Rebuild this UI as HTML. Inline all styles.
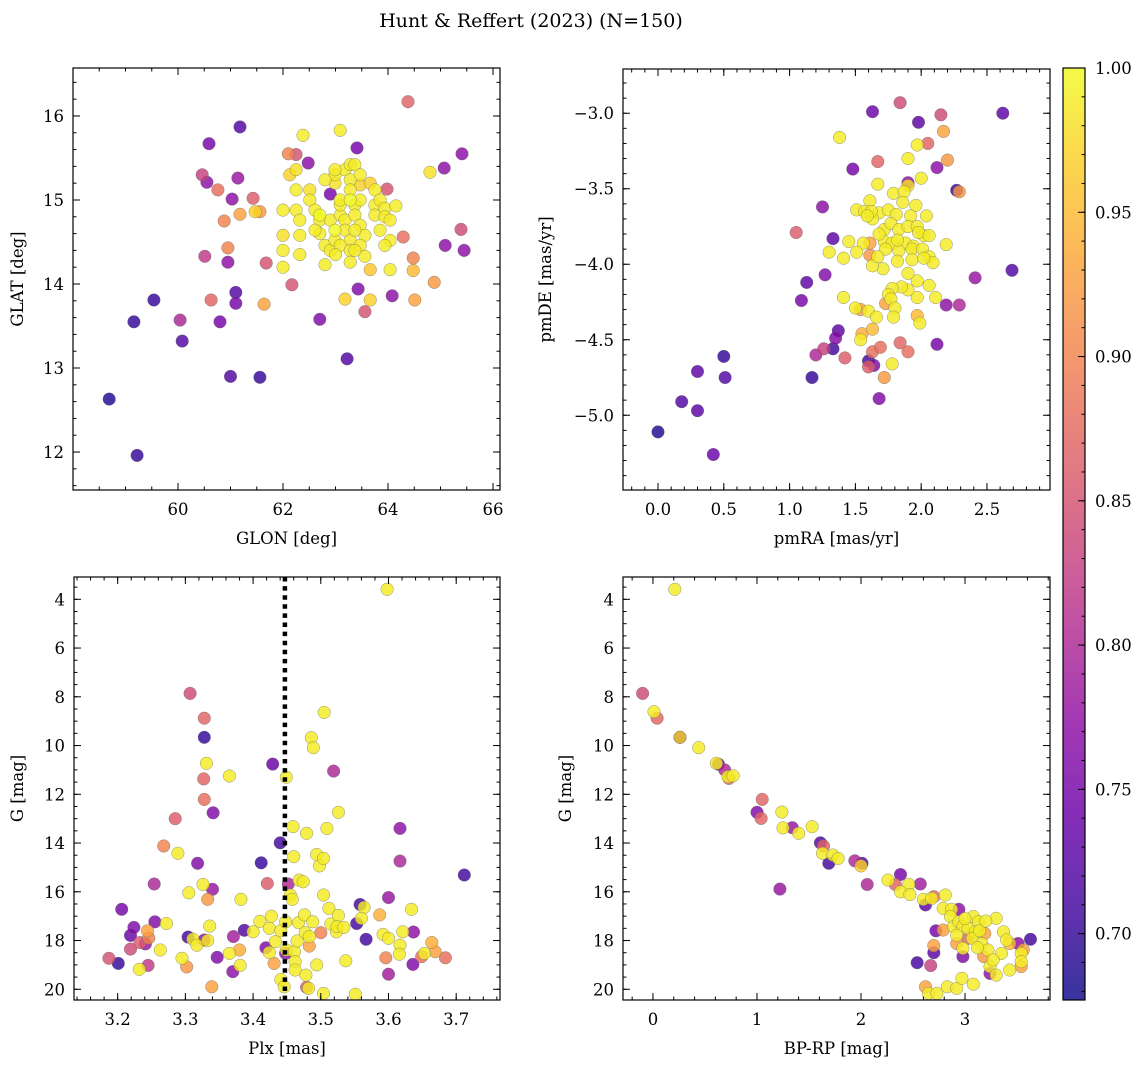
<!DOCTYPE html>
<html><head><meta charset="utf-8"><title>Hunt & Reffert (2023)</title>
<style>
html,body{margin:0;padding:0;background:#fff;}
svg{display:block;font-family:"DejaVu Serif","Liberation Serif",serif;}
</style></head>
<body>
<svg id="fig" width="1148" height="1067" viewBox="0 0 1148 1067" xmlns="http://www.w3.org/2000/svg">
<text x="531" y="27" font-size="19" text-anchor="middle" fill="#000">Hunt &amp; Reffert (2023) (N=150)</text>
</svg>
<script>
// ===== Data (value, value, membership probability) =====
const glonGlatProb = [
[58.69,12.63,.69],[59.22,11.96,.70],[59.16,13.55,.70],[59.54,13.81,.70],[60.04,13.57,.80],[60.08,13.32,.72],
[60.59,15.67,.75],[60.46,15.30,.83],[60.55,15.21,.77],[60.76,15.12,.88],[60.51,14.33,.82],[60.63,13.81,.87],
[60.80,13.55,.75],[61.00,12.90,.72],[60.95,14.26,.77],[60.95,14.43,.90],[60.88,14.75,.90],[61.03,15.01,.77],
[61.14,15.26,.78],[61.18,15.87,.72],[61.10,13.90,.72],[61.10,13.77,.75],[61.18,14.83,.93],[61.43,15.02,.86],
[61.47,14.86,.97],[61.56,14.86,.92],[61.56,12.89,.70],[61.64,13.76,.93],[61.68,14.25,.85],[62.10,15.55,.90],
[62.25,15.54,.85],[62.17,13.99,.85],[62.48,15.44,.77],[62.70,13.58,.76],[62.90,15.07,.75],[63.41,15.62,.75],
[63.22,13.11,.72],[63.43,13.94,.76],[63.56,13.67,.85],[63.98,15.13,.85],[64.08,13.86,.77],[64.38,16.17,.87],
[64.29,14.56,.88],[64.48,14.31,.90],[64.48,14.16,.95],[64.51,13.81,.93],[64.88,14.02,.92],[64.80,15.33,.98],
[65.07,15.38,.77],[65.09,14.46,.77],[65.41,15.55,.77],[65.39,14.65,.84],[65.45,14.40,.77],
[62.38,15.77,.99],[63.09,15.83,.99],[62.13,15.30,.97],[62.25,15.36,.98],[62.25,15.12,.99],[62.00,14.88,.99],
[62.25,14.88,.99],[62.32,14.58,.99],[62.00,14.58,.98],[62.00,14.40,.99],[62.00,14.20,.99],[62.32,14.35,.99],
[62.51,15.12,.98],[62.51,15.00,.99],[62.61,14.88,.99],[62.70,14.82,1],[62.70,14.60,.99],[62.70,14.76,.99],
[62.90,14.76,.99],[62.80,14.46,.99],[62.80,14.23,.99],[62.90,14.40,.99],[62.99,14.52,.99],[62.99,14.64,1],
[63.09,14.82,.99],[63.09,14.94,.99],[63.09,15.00,.99],[62.99,15.30,.99],[62.99,15.20,.98],[63.18,15.36,.99],
[63.28,15.42,.99],[63.28,15.24,.99],[63.28,15.12,.99],[63.28,15.00,1],[63.18,14.76,.99],[63.18,14.64,.99],
[63.28,14.52,.99],[63.09,14.46,.99],[63.28,14.40,.99],[63.00,14.35,.99],[63.18,13.82,.97],[63.37,15.42,.99],
[63.47,15.30,.99],[63.47,15.18,.97],[63.37,14.94,.99],[63.37,14.82,.99],[63.47,14.70,.99],[63.56,14.58,.99],
[63.47,14.46,.99],[63.56,14.33,.99],[63.66,14.17,.96],[63.75,14.94,.99],[63.75,14.82,.99],[63.66,15.20,.97],
[63.75,15.12,.99],[63.85,15.00,.99],[63.94,14.90,.99],[63.94,14.80,.99],[63.85,14.64,.99],[64.04,14.52,.99],
[64.04,14.76,.99],[64.15,14.93,.99],[63.94,14.46,.99],[64.04,14.17,.99],[63.66,13.81,.97],[63.47,15.00,.99],
[63.37,14.40,.99],[63.28,14.26,.99],[62.61,14.64,.99],[62.32,14.76,.99],[62.80,15.24,.99],[62.99,15.36,.99],
[63.37,14.64,.99]
];
const pmraPmdeProb = [
[0.00,-5.11,.69],[0.18,-4.91,.72],[0.30,-4.71,.73],[0.30,-4.97,.73],[0.42,-5.26,.74],[0.50,-4.61,.70],[0.51,-4.75,.72],
[1.05,-3.79,.86],[1.09,-4.24,.75],[1.13,-4.12,.73],[1.17,-4.75,.70],[1.20,-4.60,.80],[1.25,-3.62,.77],[1.26,-4.56,.83],
[1.27,-4.07,.76],[1.33,-3.83,.73],[1.33,-4.56,.71],[1.35,-4.49,.76],[1.37,-4.44,.73],[1.42,-4.62,.86],[1.48,-3.37,.75],
[1.63,-2.99,.74],[1.67,-3.32,.87],[1.60,-4.64,.71],[1.60,-4.68,.86],[1.64,-4.67,.76],[1.63,-4.58,.88],[1.69,-4.55,.88],
[1.72,-4.75,.92],[1.68,-4.89,.76],[1.84,-4.52,.87],[1.90,-4.58,.88],[1.84,-2.93,.84],[1.98,-3.06,.73],[2.05,-3.20,.87],
[2.15,-3.01,.84],[2.17,-3.12,.93],[2.12,-3.36,.77],[2.20,-3.31,.92],[2.27,-3.51,.70],[2.29,-3.52,.92],[2.62,-3.00,.73],
[2.69,-4.04,.72],[2.41,-4.09,.78],[2.19,-4.27,.77],[2.29,-4.27,.80],[2.12,-4.53,.75],[1.90,-3.46,.77],[1.61,-3.86,.93],
[1.61,-3.94,.92],[1.73,-4.26,.93],[1.55,-4.46,.94],[1.63,-4.43,.95],[1.97,-4.34,.95],[1.54,-4.30,.93],
[1.38,-3.16,.99],[1.90,-3.30,.99],[1.97,-3.21,.99],[2.00,-3.43,.99],[1.67,-3.47,.99],[1.79,-3.53,.99],[1.87,-3.52,.99],
[1.90,-3.48,.98],[1.86,-3.59,.99],[1.61,-3.58,.99],[1.51,-3.64,.99],[1.57,-3.65,.99],[1.68,-3.66,.99],[1.75,-3.64,.99],
[1.81,-3.67,.99],[1.96,-3.61,.99],[2.04,-3.68,.99],[1.92,-3.68,.99],[1.63,-3.70,.99],[1.72,-3.77,.99],[1.77,-3.73,.99],
[1.83,-3.77,.99],[1.90,-3.75,.99],[1.97,-3.75,.99],[2.02,-3.81,.99],[1.98,-3.79,.99],[2.06,-3.81,.99],[1.72,-3.85,.99],
[1.78,-3.86,.99],[1.88,-3.86,.99],[1.94,-3.88,.99],[2.19,-3.87,.99],[1.45,-3.85,.99],[1.56,-3.86,.99],[1.30,-3.92,.99],
[1.41,-3.96,.99],[1.51,-3.92,.99],[1.73,-3.90,.99],[1.83,-3.91,.99],[1.93,-3.90,.99],[2.01,-3.90,.99],[2.06,-3.95,.99],
[2.09,-3.99,.99],[1.71,-4.03,.99],[1.63,-4.01,.99],[1.82,-3.98,.99],[1.93,-3.97,.99],[2.02,-3.96,.99],[1.97,-4.11,.99],
[2.06,-4.14,.99],[2.11,-4.22,.99],[1.97,-4.22,.99],[1.90,-4.17,.99],[1.85,-4.15,.99],[1.78,-4.16,.99],[1.75,-4.20,.99],
[1.77,-4.23,.99],[1.80,-4.29,.99],[1.79,-4.35,.99],[1.41,-4.22,.99],[1.50,-4.29,.99],[1.60,-4.31,.99],[1.66,-4.35,.99],
[1.54,-4.50,.99],[1.99,-4.39,.99],[1.78,-4.66,.99],[1.62,-3.65,.99],[1.59,-3.68,.99],[1.68,-3.80,.99],[1.82,-3.84,.99],
[1.67,-3.95,.99],[1.90,-4.06,.99]
];
const plxGProb = [
[3.598,3.59,.99],[3.307,7.86,.84],[3.328,8.88,.87],[3.328,9.66,.70],[3.331,10.73,.99],[3.327,11.37,.87],[3.328,12.21,.88],
[3.341,12.76,.76],[3.365,11.25,.99],[3.285,13.00,.86],[3.268,14.12,.90],[3.289,14.42,.99],[3.318,14.83,.76],[3.254,15.68,.80],
[3.206,16.72,.75],[3.224,17.46,.76],[3.219,17.79,.74],[3.255,17.23,.76],[3.244,17.60,.93],[3.246,17.90,.90],[3.233,18.08,.86],
[3.241,18.14,.78],[3.219,18.35,.84],[3.187,18.73,.85],[3.201,18.94,.70],[3.245,19.02,.82],[3.232,19.18,.99],[3.263,18.39,.99],
[3.272,17.30,.99],[3.305,16.04,.99],[3.326,15.70,.99],[3.340,15.90,.78],[3.333,16.31,.92],[3.304,17.86,.71],[3.311,17.94,.99],
[3.317,18.19,.99],[3.328,17.98,.78],[3.333,18.00,.99],[3.336,17.41,.99],[3.295,18.73,.99],[3.302,19.08,.92],[3.339,19.90,.93],
[3.347,18.69,.76],[3.371,17.84,.79],[3.370,19.28,.77],[3.365,18.53,.99],[3.380,18.39,.94],[3.381,19.02,.99],[3.382,16.31,.99],
[3.387,17.58,.72],[3.400,17.64,.99],[3.410,17.21,.99],[3.412,14.81,.70],[3.421,15.66,.86],[3.429,10.76,.74],[3.419,18.30,.76],
[3.424,17.50,.99],[3.427,17.00,.99],[3.433,18.05,.99],[3.424,18.49,.99],[3.431,18.94,.93],[3.440,13.99,.71],[3.441,17.60,.99],
[3.441,19.60,.99],[3.446,19.90,.99],[3.449,11.30,.99],[3.452,15.68,.80],[3.448,17.23,.99],[3.449,18.39,.99],[3.448,18.53,.77],
[3.455,16.13,.99],[3.458,16.31,.99],[3.459,13.33,.99],[3.460,14.56,.99],[3.461,18.46,.99],[3.462,18.87,.99],[3.462,19.21,.99],
[3.465,18.02,.99],[3.467,17.27,.99],[3.468,15.52,.99],[3.474,15.59,.99],[3.476,16.95,.99],[3.477,17.68,.99],[3.478,19.42,.99],
[3.479,13.60,.99],[3.479,19.92,.86],[3.482,19.96,.99],[3.483,18.23,.93],[3.483,17.84,.99],[3.486,9.68,.99],[3.489,10.09,.99],
[3.488,17.23,.99],[3.494,14.47,.99],[3.498,14.94,.99],[3.504,14.63,.99],[3.504,16.13,.99],[3.494,19.00,.99],[3.500,17.68,.90],
[3.505,8.64,.99],[3.509,13.40,.99],[3.512,16.68,.99],[3.515,17.32,.99],[3.519,11.05,.80],[3.523,17.64,.99],[3.526,12.74,.99],
[3.526,16.97,.99],[3.524,17.43,.99],[3.534,17.46,.99],[3.504,20.17,.99],[3.537,18.83,.99],[3.551,20.20,.99],[3.553,17.30,.71],
[3.558,16.52,.71],[3.564,16.64,.99],[3.560,17.09,.99],[3.567,17.95,.71],[3.587,16.95,.94],[3.592,17.75,.99],[3.600,16.24,.78],
[3.600,17.91,.99],[3.596,18.71,.90],[3.600,19.38,.79],[3.617,13.40,.77],[3.617,14.74,.80],[3.617,18.19,.99],[3.616,18.56,.99],
[3.621,17.64,.99],[3.634,16.72,.99],[3.637,17.65,.77],[3.636,18.98,.76],[3.649,18.66,.88],[3.653,18.53,.99],[3.664,18.08,.94],
[3.669,18.46,.93],[3.684,18.71,.88],[3.712,15.31,.71]
];
const bprpGProb = [
[0.21,3.59,.99],[-0.10,7.86,.84],[0.01,8.61,.99],[0.04,8.88,.87],[0.26,9.66,.70],[0.26,9.66,.97],[0.44,10.09,.99],
[0.63,10.77,.75],[0.61,10.73,.99],[0.69,11.00,.80],[0.73,11.35,.87],[0.72,11.28,.99],[0.77,11.24,.99],[1.05,12.21,.87],
[1.00,12.74,.76],[1.04,12.99,.87],[1.24,12.73,.99],[1.25,13.38,.99],[1.34,13.37,.78],[1.40,13.60,.99],[1.53,13.33,.99],
[1.22,15.89,.78],[1.61,13.99,.72],[1.64,14.12,.87],[1.63,14.42,.99],[1.69,14.83,.71],[1.73,14.49,.99],[1.78,14.63,.99],
[1.94,14.73,.80],[2.01,14.83,.72],[2.00,14.94,.97],[2.06,15.70,.80],[2.26,15.52,.99],[2.33,15.70,.87],[2.38,15.29,.75],
[2.46,15.70,.99],[2.57,15.68,.79],[2.38,16.00,.99],[2.47,16.11,.99],[2.54,18.91,.71],[2.67,19.03,.83],[2.62,16.54,.73],
[2.60,16.31,.99],[2.68,16.27,.99],[2.70,16.20,.88],[2.81,16.13,.99],[2.72,17.60,.75],[2.79,17.57,.93],[2.70,18.50,.73],
[2.70,18.21,.93],[2.62,19.90,.93],[2.65,20.17,.99],[2.73,20.17,.99],[2.83,19.90,.99],[2.92,19.96,.99],[2.97,19.55,.99],
[3.08,19.79,.99],[2.98,18.66,.76],[2.92,18.12,.93],[2.98,18.32,.99],[2.79,16.68,.99],[2.87,16.72,.99],[2.94,16.72,.77],
[2.86,17.02,.99],[2.89,17.43,.99],[2.94,17.23,.99],[2.98,17.43,.99],[2.92,17.78,.99],[3.03,17.50,.99],[3.08,17.02,.99],
[3.13,17.23,.99],[3.10,17.64,.99],[3.07,17.91,.99],[3.03,17.91,.87],[3.16,18.12,.99],[3.19,17.71,.93],[3.22,18.39,.99],
[3.18,18.66,.92],[3.24,19.07,.99],[3.24,19.35,.77],[3.30,19.42,.99],[3.30,17.09,.99],[3.35,18.53,.99],[3.37,17.64,.99],
[3.40,17.98,.99],[3.43,19.21,.99],[3.43,18.12,.95],[3.51,18.12,.77],[3.54,18.53,.99],[3.54,18.87,.99],[3.54,19.07,.93],
[3.56,18.39,.93],[3.63,17.95,.71],[3.27,18.80,.99],[3.14,17.60,.99],[3.20,17.20,.99],[3.00,17.10,.99],[3.12,18.30,.99]
];
const cbarTicks = [0.70,0.75,0.80,0.85,0.90,0.95,1.00];
const cbarMin = 0.677, cbarMax = 1.0;

// ===== Helpers =====
const NS = "http://www.w3.org/2000/svg";
const svg = document.getElementById('fig');
function mk(tag, attrs, parent){
  const e = document.createElementNS(NS, tag);
  for (const k in attrs) e.setAttribute(k, attrs[k]);
  (parent||svg).appendChild(e);
  return e;
}
const plasma = ["#0d0887","#41049d","#6a00a8","#8f0da4","#b12a90","#cc4778","#e16462","#f2844b","#fca636","#fcce25","#f0f921"];
function hex(c){return [parseInt(c.slice(1,3),16),parseInt(c.slice(3,5),16),parseInt(c.slice(5,7),16)];}
function cmap(t){
  t=Math.max(0,Math.min(1,t)); const f=t*10, i=Math.min(9,Math.floor(f)), u=f-i;
  const a=hex(plasma[i]), b=hex(plasma[i+1]);
  return "rgb("+a.map((v,k)=>Math.round(v+(b[k]-v)*u)).join(",")+")";
}
function fmtMinus(s){return String(s).replace('-', '\u2212');}
const FS = 16.5;

function panel(cfg){
  const g = mk('g',{});
  
  
  const sx = v => cfg.l + (v-cfg.x0)/(cfg.x1-cfg.x0)*(cfg.r-cfg.l);
  const sy = v => cfg.t + (v-cfg.yTop)/(cfg.yBot-cfg.yTop)*(cfg.b-cfg.t);
  const cid = cfg.name+'-clip';
  const cp = mk('clipPath',{id:cid},g);
  mk('rect',{x:cfg.l,y:cfg.t,width:cfg.r-cfg.l,height:cfg.b-cfg.t},cp);
  const pts = mk('g',{'clip-path':'url(#'+cid+')'},g);
  
  
  const data = cfg.data.slice().sort((a,b)=>a[2]-b[2]);
  data.forEach(d=>{
    const c = mk('circle',{cx:sx(d[0]).toFixed(1),cy:sy(d[1]).toFixed(1),r:6.3,fill:cmap((d[2]-cbarMin)/(cbarMax-cbarMin)),'fill-opacity':0.82,stroke:'#666','stroke-width':0.5,'stroke-opacity':0.7},pts);
    
    
  });
  if (cfg.vline!==undefined){
    const vl = mk('line',{x1:sx(cfg.vline),x2:sx(cfg.vline),y1:cfg.t,y2:cfg.b,stroke:'#000','stroke-width':4.5,'stroke-dasharray':'4.5 4.6'},g);
    
    
  }
  const fr = mk('rect',{x:cfg.l,y:cfg.t,width:cfg.r-cfg.l,height:cfg.b-cfg.t,fill:'none',stroke:'#000','stroke-width':1.2},g);
  
  
  const tk = mk('g',{stroke:'#000','stroke-width':1},g);
  function xt(v,len){const x=sx(v); if(x<cfg.l-0.5||x>cfg.r+0.5)return;
    mk('line',{x1:x,x2:x,y1:cfg.b,y2:cfg.b-len},tk); mk('line',{x1:x,x2:x,y1:cfg.t,y2:cfg.t+len},tk);}
  function yt(v,len){const y=sy(v); if(y<cfg.t-0.5||y>cfg.b+0.5)return;
    mk('line',{x1:cfg.l,x2:cfg.l+len,y1:y,y2:y},tk); mk('line',{x1:cfg.r,x2:cfg.r-len,y1:y,y2:y},tk);}
  const xa=Math.min(cfg.x0,cfg.x1), xb=Math.max(cfg.x0,cfg.x1);
  for(let v=Math.ceil(xa/cfg.xMinor)*cfg.xMinor; v<=xb; v+=cfg.xMinor) xt(v,3.5);
  const ya=Math.min(cfg.yTop,cfg.yBot), yb=Math.max(cfg.yTop,cfg.yBot);
  for(let v=Math.ceil(ya/cfg.yMinor)*cfg.yMinor; v<=yb; v+=cfg.yMinor) yt(v,3.5);
  cfg.xTicks.forEach((v,i)=>{xt(v,7);
    const t=mk('text',{x:sx(v),y:cfg.b+25,'font-size':FS,'text-anchor':'middle',fill:'#000'},g);
    t.textContent=fmtMinus(cfg.xLabels[i]);
    
    });
  cfg.yTicks.forEach((v,i)=>{yt(v,7);
    const t=mk('text',{x:cfg.l-9,y:sy(v)+6,'font-size':FS,'text-anchor':'end',fill:'#000'},g);
    t.textContent=fmtMinus(cfg.yLabels[i]);
    
    });
  const xl=mk('text',{x:(cfg.l+cfg.r)/2,y:cfg.b+54,'font-size':FS,'text-anchor':'middle',fill:'#000'},g);
  xl.textContent=cfg.xTitle;
  
  
  const yx=cfg.yTitleX, yy=(cfg.t+cfg.b)/2;
  const yl=mk('text',{x:yx,y:yy,'font-size':FS,'text-anchor':'middle',fill:'#000',transform:'rotate(-90 '+yx+' '+yy+')'},g);
  yl.textContent=cfg.yTitle;
  
  
}

panel({name:'glon-glat-panel',l:73,r:500,t:68,b:490,x0:58.0,x1:66.133,yTop:16.571,yBot:11.548,
  xTicks:[60,62,64,66],xLabels:['60','62','64','66'],yTicks:[12,13,14,15,16],yLabels:['12','13','14','15','16'],
  xMinor:0.5,yMinor:0.2,xTitle:'GLON [deg]',yTitle:'GLAT [deg]',yTitleX:23,data:glonGlatProb});
panel({name:'proper-motion-panel',l:623,r:1050,t:69,b:490,x0:-0.266,x1:2.979,yTop:-2.707,yBot:-5.495,
  xTicks:[0,0.5,1,1.5,2,2.5],xLabels:['0.0','0.5','1.0','1.5','2.0','2.5'],
  yTicks:[-3,-3.5,-4,-4.5,-5],yLabels:['-3.0','-3.5','-4.0','-4.5','-5.0'],
  xMinor:0.1,yMinor:0.1,xTitle:'pmRA [mas/yr]',yTitle:'pmDE [mas/yr]',yTitleX:551,data:pmraPmdeProb});
panel({name:'parallax-mag-panel',l:74,r:500,t:577,b:1000,x0:3.1355,x1:3.7647,yTop:3.085,yBot:20.44,
  xTicks:[3.2,3.3,3.4,3.5,3.6,3.7],xLabels:['3.2','3.3','3.4','3.5','3.6','3.7'],
  yTicks:[4,6,8,10,12,14,16,18,20],yLabels:['4','6','8','10','12','14','16','18','20'],
  xMinor:0.02,yMinor:0.5,xTitle:'Plx [mas]',yTitle:'G [mag]',yTitleX:23,vline:3.447,data:plxGProb});
panel({name:'cmd-panel',l:623,r:1050,t:577,b:1000,x0:-0.288,x1:3.817,yTop:3.085,yBot:20.44,
  xTicks:[0,1,2,3],xLabels:['0','1','2','3'],
  yTicks:[4,6,8,10,12,14,16,18,20],yLabels:['4','6','8','10','12','14','16','18','20'],
  xMinor:0.2,yMinor:0.5,xTitle:'BP-RP [mag]',yTitle:'G [mag]',yTitleX:571,data:bprpGProb});

// ===== Colorbar =====
(function(){
  const l=1063,r=1085,t=68,b=1000;
  const g=mk('g',{});
  
  
  const defs=mk('defs',{},g);
  const lg=mk('linearGradient',{id:'cbgrad',x1:0,y1:1,x2:0,y2:0},defs);
  for(let i=0;i<=20;i++){const tt=i/20; mk('stop',{offset:tt,'stop-color':cmap(tt)},lg);}
  mk('rect',{x:l,y:t,width:r-l,height:b-t,fill:'url(#cbgrad)','fill-opacity':0.82},g);
  mk('rect',{x:l,y:t,width:r-l,height:b-t,fill:'none',stroke:'#000','stroke-width':1.2},g);
  const sy=v=>b-(v-cbarMin)/(cbarMax-cbarMin)*(b-t);
  for(let v=0.68; v<=1.0001; v+=0.01){const y=sy(v); mk('line',{x1:r,x2:r-3.5,y1:y,y2:y,stroke:'#000'},g);}
  cbarTicks.forEach(v=>{const y=sy(v);
    mk('line',{x1:r,x2:r-7,y1:y,y2:y,stroke:'#000'},g);
    const tx=mk('text',{x:r+10,y:y+6,'font-size':FS,fill:'#000'},g);
    tx.textContent=v.toFixed(2);
    
    });
})();
</script>
</body></html>
